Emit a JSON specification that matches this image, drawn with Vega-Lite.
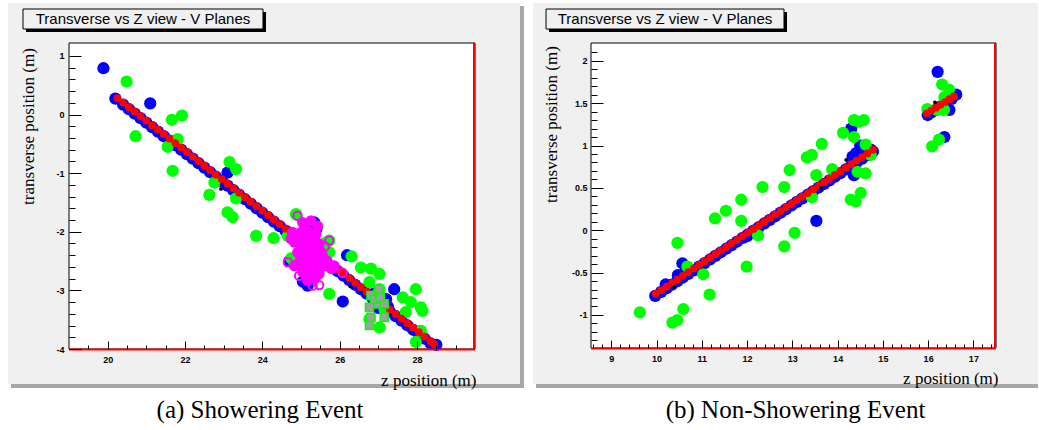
{
  "$schema": "https://vega.github.io/schema/vega-lite/v6.json",
  "padding": {"left": 7, "top": 3, "right": 0, "bottom": 6},
  "background": "white",
  "bounds": "flush",
  "spacing": 116,
  "config": {"view": {"stroke": null}},
  "datasets": {
    "p1": [
      {"s":"hit","z":20.2,"t":0.27},{"s":"hit","z":20.4,"t":0.168},{"s":"hit","z":20.55,"t":0.091},{"s":"hit","z":20.7,"t":0.015},{"s":"hit","z":20.85,"t":-0.062},{"s":"hit","z":21.0,"t":-0.139},{"s":"hit","z":21.15,"t":-0.216},{"s":"hit","z":21.3,"t":-0.293},{"s":"hit","z":21.45,"t":-0.369},{"s":"hit","z":21.6,"t":-0.446},{"s":"hit","z":21.75,"t":-0.523},{"s":"hit","z":21.9,"t":-0.6},{"s":"hit","z":22.05,"t":-0.677},{"s":"hit","z":22.2,"t":-0.753},{"s":"hit","z":22.35,"t":-0.83},{"s":"hit","z":22.5,"t":-0.907},{"s":"hit","z":22.65,"t":-0.984},{"s":"hit","z":22.8,"t":-1.061},{"s":"hit","z":22.95,"t":-1.137},{"s":"hit","z":23.1,"t":-1.214},{"s":"hit","z":23.25,"t":-1.291},{"s":"hit","z":23.4,"t":-1.368},{"s":"hit","z":23.55,"t":-1.445},{"s":"hit","z":23.7,"t":-1.521},{"s":"hit","z":23.85,"t":-1.598},{"s":"hit","z":24.0,"t":-1.675},{"s":"hit","z":24.15,"t":-1.752},{"s":"hit","z":24.3,"t":-1.829},{"s":"hit","z":24.45,"t":-1.905},{"s":"hit","z":24.6,"t":-1.982},{"s":"hit","z":24.75,"t":-2.059},{"s":"hit","z":24.9,"t":-2.136},{"s":"hit","z":25.05,"t":-2.213},{"s":"hit","z":25.2,"t":-2.289},{"s":"hit","z":25.35,"t":-2.366},{"s":"hit","z":25.5,"t":-2.443},{"s":"hit","z":25.65,"t":-2.52},{"s":"hit","z":25.8,"t":-2.597},{"s":"hit","z":25.95,"t":-2.673},{"s":"hit","z":26.1,"t":-2.75},{"s":"hit","z":26.25,"t":-2.827},{"s":"hit","z":26.4,"t":-2.904},{"s":"hit","z":26.55,"t":-2.981},{"s":"hit","z":26.7,"t":-3.057},{"s":"hit","z":26.85,"t":-3.134},{"s":"hit","z":27.0,"t":-3.211},{"s":"hit","z":27.15,"t":-3.288},{"s":"hit","z":27.3,"t":-3.365},{"s":"hit","z":27.45,"t":-3.441},{"s":"hit","z":27.6,"t":-3.518},{"s":"hit","z":27.75,"t":-3.595},{"s":"hit","z":27.9,"t":-3.672},{"s":"hit","z":28.05,"t":-3.749},{"s":"hit","z":28.2,"t":-3.825},{"s":"hit","z":28.35,"t":-3.902},{"s":"hit","z":28.5,"t":-3.93},
      {"s":"hit","z":19.89,"t":0.79},{"s":"hit","z":21.1,"t":0.19},{"s":"hit","z":23.1,"t":-0.99},{"s":"hit","z":26.19,"t":-2.4},{"s":"hit","z":26.08,"t":-3.19},{"s":"hit","z":27.41,"t":-2.98},{"s":"hit","z":25.34,"t":-1.84},{"s":"hit","z":25.4,"t":-1.95},{"s":"hit","z":25.17,"t":-2.92},{"s":"hit","z":25.05,"t":-2.85},{"s":"hit","z":27.2,"t":-3.15},{"s":"hit","z":27.25,"t":-3.28},{"s":"hit","z":26.9,"t":-3.05},{"s":"hit","z":24.7,"t":-2.5},{"s":"hit","z":27.0,"t":-3.3},
      {"s":"other","z":20.49,"t":0.56},{"s":"other","z":21.66,"t":-0.09},{"s":"other","z":21.92,"t":-0.02},{"s":"other","z":20.72,"t":-0.37},{"s":"other","z":21.55,"t":-0.55},{"s":"other","z":21.81,"t":-0.42},{"s":"other","z":21.68,"t":-0.96},{"s":"other","z":23.15,"t":-0.81},{"s":"other","z":23.32,"t":-0.93},{"s":"other","z":22.76,"t":-1.16},{"s":"other","z":22.63,"t":-1.37},{"s":"other","z":23.32,"t":-1.43},{"s":"other","z":23.1,"t":-1.67},{"s":"other","z":23.23,"t":-1.75},{"s":"other","z":23.84,"t":-2.07},{"s":"other","z":24.29,"t":-2.11},{"s":"other","z":24.87,"t":-1.7},{"s":"other","z":24.66,"t":-2.07},{"s":"other","z":25.73,"t":-2.15},{"s":"other","z":25.73,"t":-2.35},{"s":"other","z":26.31,"t":-2.42},{"s":"other","z":26.55,"t":-2.61},{"s":"other","z":26.81,"t":-2.63},{"s":"other","z":27.03,"t":-2.72},{"s":"other","z":26.77,"t":-2.86},{"s":"other","z":25.73,"t":-3.06},{"s":"other","z":27.97,"t":-2.98},{"s":"other","z":27.63,"t":-3.12},{"s":"other","z":27.84,"t":-3.2},{"s":"other","z":28.1,"t":-3.29},{"s":"other","z":27.71,"t":-3.37},{"s":"other","z":28.14,"t":-3.35},{"s":"other","z":27.03,"t":-2.98},{"s":"other","z":26.77,"t":-3.49},{"s":"other","z":27.03,"t":-3.63},{"s":"other","z":28.1,"t":-3.69},{"s":"other","z":27.97,"t":-3.88},{"s":"other","z":24.83,"t":-2.52},{"s":"other","z":25.52,"t":-2.52},{"s":"other","z":27.16,"t":-3.32},{"s":"other","z":26.9,"t":-3.1},{"s":"other","z":24.75,"t":-2.45},{"s":"other","z":25.6,"t":-2.2},
      {"s":"fit","z":20.25,"t":0.28},{"s":"fit","z":20.4,"t":0.203},{"s":"fit","z":20.55,"t":0.126},{"s":"fit","z":20.7,"t":0.05},{"s":"fit","z":20.85,"t":-0.027},{"s":"fit","z":21.0,"t":-0.104},{"s":"fit","z":21.15,"t":-0.181},{"s":"fit","z":21.3,"t":-0.258},{"s":"fit","z":21.45,"t":-0.334},{"s":"fit","z":21.6,"t":-0.411},{"s":"fit","z":21.75,"t":-0.488},{"s":"fit","z":21.9,"t":-0.565},{"s":"fit","z":22.05,"t":-0.642},{"s":"fit","z":22.2,"t":-0.718},{"s":"fit","z":22.35,"t":-0.795},{"s":"fit","z":22.5,"t":-0.872},{"s":"fit","z":22.65,"t":-0.949},{"s":"fit","z":22.8,"t":-1.026},{"s":"fit","z":22.95,"t":-1.102},{"s":"fit","z":23.1,"t":-1.179},{"s":"fit","z":23.25,"t":-1.256},{"s":"fit","z":23.4,"t":-1.333},{"s":"fit","z":23.55,"t":-1.41},{"s":"fit","z":23.7,"t":-1.486},{"s":"fit","z":23.85,"t":-1.563},{"s":"fit","z":24.0,"t":-1.64},{"s":"fit","z":24.15,"t":-1.717},{"s":"fit","z":24.3,"t":-1.794},{"s":"fit","z":24.45,"t":-1.87},{"s":"fit","z":24.6,"t":-1.947},{"s":"fit","z":24.75,"t":-2.024},{"s":"fit","z":24.9,"t":-2.101},{"s":"fit","z":25.05,"t":-2.178},{"s":"fit","z":25.2,"t":-2.254},{"s":"fit","z":25.35,"t":-2.331},{"s":"fit","z":25.5,"t":-2.408},{"s":"fit","z":25.65,"t":-2.485},{"s":"fit","z":25.8,"t":-2.562},{"s":"fit","z":25.95,"t":-2.638},{"s":"fit","z":26.1,"t":-2.715},{"s":"fit","z":26.25,"t":-2.792},{"s":"fit","z":26.4,"t":-2.869},{"s":"fit","z":26.55,"t":-2.946},{"s":"fit","z":26.7,"t":-3.022},{"s":"fit","z":26.85,"t":-3.099},{"s":"fit","z":27.0,"t":-3.176},{"s":"fit","z":27.15,"t":-3.253},{"s":"fit","z":27.3,"t":-3.33},{"s":"fit","z":27.45,"t":-3.406},{"s":"fit","z":27.6,"t":-3.483},{"s":"fit","z":27.75,"t":-3.56},{"s":"fit","z":27.9,"t":-3.637},{"s":"fit","z":28.05,"t":-3.714},{"s":"fit","z":28.2,"t":-3.79},{"s":"fit","z":28.35,"t":-3.867},{"s":"fit","z":28.45,"t":-3.918},
      {"s":"shower","z":25.04,"t":-1.84},{"s":"shower","z":25.26,"t":-1.81},{"s":"shower","z":25.43,"t":-1.9},{"s":"shower","z":24.78,"t":-2.01},{"s":"shower","z":25.0,"t":-2.01},{"s":"shower","z":25.22,"t":-2.01},{"s":"shower","z":25.39,"t":-2.04},{"s":"shower","z":24.83,"t":-2.18},{"s":"shower","z":25.04,"t":-2.18},{"s":"shower","z":25.26,"t":-2.21},{"s":"shower","z":25.47,"t":-2.21},{"s":"shower","z":24.91,"t":-2.35},{"s":"shower","z":25.13,"t":-2.35},{"s":"shower","z":25.34,"t":-2.38},{"s":"shower","z":25.56,"t":-2.41},{"s":"shower","z":24.96,"t":-2.52},{"s":"shower","z":25.17,"t":-2.52},{"s":"shower","z":25.39,"t":-2.55},{"s":"shower","z":25.6,"t":-2.58},{"s":"shower","z":24.83,"t":-2.58},{"s":"shower","z":25.04,"t":-2.69},{"s":"shower","z":25.26,"t":-2.72},{"s":"shower","z":25.47,"t":-2.72},{"s":"shower","z":25.78,"t":-2.63},{"s":"shower","z":25.17,"t":-2.83},{"s":"shower","z":25.52,"t":-2.35},{"s":"shower","z":24.74,"t":-2.12},{"s":"shower","z":25.86,"t":-2.58},{"s":"shower","z":25.12,"t":-1.95},{"s":"shower","z":24.93,"t":-2.1},{"s":"shower","z":25.15,"t":-2.12},{"s":"shower","z":25.36,"t":-2.14},{"s":"shower","z":25.02,"t":-2.28},{"s":"shower","z":25.24,"t":-2.3},{"s":"shower","z":25.45,"t":-2.32},{"s":"shower","z":25.06,"t":-2.45},{"s":"shower","z":25.28,"t":-2.46},{"s":"shower","z":25.48,"t":-2.48},{"s":"shower","z":25.1,"t":-2.6},{"s":"shower","z":25.33,"t":-2.63},{"s":"shower","z":25.68,"t":-2.5},{"s":"shower","z":25.36,"t":-2.8},
      {"s":"open","z":24.91,"t":-1.73},{"s":"open","z":25.73,"t":-2.15},{"s":"open","z":24.66,"t":-2.52},{"s":"open","z":26.08,"t":-2.7},{"s":"open","z":25.3,"t":-2.92},{"s":"open","z":25.47,"t":-2.91},{"s":"open","z":25.62,"t":-2.25},{"s":"open","z":24.95,"t":-2.75},
      {"s":"square","z":26.81,"t":-3.09},{"s":"square","z":27.02,"t":-2.98},{"s":"square","z":26.98,"t":-3.23},{"s":"square","z":27.15,"t":-3.23},{"s":"square","z":26.77,"t":-3.29},{"s":"square","z":26.81,"t":-3.46},{"s":"square","z":26.77,"t":-3.6},{"s":"square","z":27.15,"t":-3.46},{"s":"square","z":26.9,"t":-3.15},{"s":"square","z":27.05,"t":-3.12},
      {"s":"dot","z":22.93,"t":-1.27},{"s":"dot","z":26.27,"t":-2.93}
    ],
    "p2": [
      {"s":"hit","z":9.97,"t":-0.775},{"s":"hit","z":10.1,"t":-0.728},{"s":"hit","z":10.22,"t":-0.685},{"s":"hit","z":10.34,"t":-0.643},{"s":"hit","z":10.46,"t":-0.6},{"s":"hit","z":10.58,"t":-0.558},{"s":"hit","z":10.7,"t":-0.515},{"s":"hit","z":10.82,"t":-0.473},{"s":"hit","z":10.94,"t":-0.43},{"s":"hit","z":11.06,"t":-0.388},{"s":"hit","z":11.18,"t":-0.345},{"s":"hit","z":11.3,"t":-0.303},{"s":"hit","z":11.42,"t":-0.26},{"s":"hit","z":11.54,"t":-0.218},{"s":"hit","z":11.66,"t":-0.175},{"s":"hit","z":11.78,"t":-0.133},{"s":"hit","z":11.9,"t":-0.09},{"s":"hit","z":12.02,"t":-0.048},{"s":"hit","z":12.14,"t":-0.005},{"s":"hit","z":12.26,"t":0.037},{"s":"hit","z":12.38,"t":0.08},{"s":"hit","z":12.5,"t":0.122},{"s":"hit","z":12.62,"t":0.165},{"s":"hit","z":12.74,"t":0.207},{"s":"hit","z":12.86,"t":0.25},{"s":"hit","z":12.98,"t":0.292},{"s":"hit","z":13.1,"t":0.334},{"s":"hit","z":13.22,"t":0.377},{"s":"hit","z":13.34,"t":0.419},{"s":"hit","z":13.46,"t":0.462},{"s":"hit","z":13.58,"t":0.504},{"s":"hit","z":13.7,"t":0.547},{"s":"hit","z":13.82,"t":0.589},{"s":"hit","z":13.94,"t":0.632},{"s":"hit","z":14.06,"t":0.674},{"s":"hit","z":14.18,"t":0.717},{"s":"hit","z":14.3,"t":0.759},{"s":"hit","z":14.42,"t":0.802},{"s":"hit","z":14.54,"t":0.844},{"s":"hit","z":14.66,"t":0.887},{"s":"hit","z":14.78,"t":0.929},
      {"s":"hit","z":10.57,"t":-0.39},{"s":"hit","z":10.47,"t":-0.53},{"s":"hit","z":10.62,"t":-0.5},{"s":"hit","z":10.2,"t":-0.64},{"s":"hit","z":12.0,"t":-0.07},{"s":"hit","z":13.53,"t":0.11},{"s":"hit","z":14.3,"t":1.2},{"s":"hit","z":14.33,"t":0.87},{"s":"hit","z":14.36,"t":0.65},{"s":"hit","z":14.41,"t":0.91},{"s":"hit","z":14.74,"t":0.95},{"s":"hit","z":14.5,"t":1.0},{"s":"hit","z":14.3,"t":0.72},{"s":"hit","z":14.6,"t":0.9},
      {"s":"hit","z":15.99,"t":1.36},{"s":"hit","z":16.07,"t":1.39},{"s":"hit","z":16.17,"t":1.42},{"s":"hit","z":16.27,"t":1.46},{"s":"hit","z":16.37,"t":1.49},{"s":"hit","z":16.47,"t":1.42},{"s":"hit","z":16.62,"t":1.6},{"s":"hit","z":16.52,"t":1.55},{"s":"hit","z":16.21,"t":1.87},{"s":"hit","z":16.36,"t":1.1},
      {"s":"other","z":9.63,"t":-0.97},{"s":"other","z":10.35,"t":-1.09},{"s":"other","z":10.46,"t":-1.06},{"s":"other","z":10.59,"t":-0.93},{"s":"other","z":10.46,"t":-0.15},{"s":"other","z":10.68,"t":-0.43},{"s":"other","z":11.03,"t":-0.52},{"s":"other","z":11.17,"t":-0.76},{"s":"other","z":11.29,"t":0.14},{"s":"other","z":11.53,"t":0.23},{"s":"other","z":11.87,"t":0.36},{"s":"other","z":11.87,"t":0.11},{"s":"other","z":11.99,"t":-0.43},{"s":"other","z":12.34,"t":0.51},{"s":"other","z":12.24,"t":-0.06},{"s":"other","z":12.82,"t":0.51},{"s":"other","z":12.94,"t":0.71},{"s":"other","z":12.82,"t":-0.19},{"s":"other","z":13.05,"t":-0.03},{"s":"other","z":13.32,"t":0.86},{"s":"other","z":13.43,"t":0.89},{"s":"other","z":13.65,"t":1.02},{"s":"other","z":13.53,"t":0.65},{"s":"other","z":13.43,"t":0.39},{"s":"other","z":13.88,"t":0.72},{"s":"other","z":14.12,"t":1.15},{"s":"other","z":14.36,"t":1.1},{"s":"other","z":14.36,"t":1.3},{"s":"other","z":14.58,"t":1.3},{"s":"other","z":14.47,"t":1.28},{"s":"other","z":14.62,"t":1.01},{"s":"other","z":14.73,"t":0.89},{"s":"other","z":14.44,"t":0.69},{"s":"other","z":14.62,"t":0.67},{"s":"other","z":14.29,"t":0.36},{"s":"other","z":14.51,"t":0.44},{"s":"other","z":14.4,"t":0.34},{"s":"other","z":15.98,"t":1.43},{"s":"other","z":16.31,"t":1.72},{"s":"other","z":16.46,"t":1.66},{"s":"other","z":16.36,"t":1.57},{"s":"other","z":16.35,"t":1.42},{"s":"other","z":16.09,"t":0.99},{"s":"other","z":16.24,"t":1.07},{"s":"other","z":16.2,"t":1.42},
      {"s":"fit","z":9.98,"t":-0.75},{"s":"fit","z":10.1,"t":-0.708},{"s":"fit","z":10.22,"t":-0.665},{"s":"fit","z":10.34,"t":-0.623},{"s":"fit","z":10.46,"t":-0.58},{"s":"fit","z":10.58,"t":-0.538},{"s":"fit","z":10.7,"t":-0.495},{"s":"fit","z":10.82,"t":-0.453},{"s":"fit","z":10.94,"t":-0.41},{"s":"fit","z":11.06,"t":-0.368},{"s":"fit","z":11.18,"t":-0.325},{"s":"fit","z":11.3,"t":-0.283},{"s":"fit","z":11.42,"t":-0.24},{"s":"fit","z":11.54,"t":-0.198},{"s":"fit","z":11.66,"t":-0.155},{"s":"fit","z":11.78,"t":-0.113},{"s":"fit","z":11.9,"t":-0.07},{"s":"fit","z":12.02,"t":-0.028},{"s":"fit","z":12.14,"t":0.015},{"s":"fit","z":12.26,"t":0.057},{"s":"fit","z":12.38,"t":0.1},{"s":"fit","z":12.5,"t":0.142},{"s":"fit","z":12.62,"t":0.185},{"s":"fit","z":12.74,"t":0.227},{"s":"fit","z":12.86,"t":0.27},{"s":"fit","z":12.98,"t":0.312},{"s":"fit","z":13.1,"t":0.354},{"s":"fit","z":13.22,"t":0.397},{"s":"fit","z":13.34,"t":0.439},{"s":"fit","z":13.46,"t":0.482},{"s":"fit","z":13.58,"t":0.524},{"s":"fit","z":13.7,"t":0.567},{"s":"fit","z":13.82,"t":0.609},{"s":"fit","z":13.94,"t":0.652},{"s":"fit","z":14.06,"t":0.694},{"s":"fit","z":14.18,"t":0.737},{"s":"fit","z":14.3,"t":0.779},{"s":"fit","z":14.42,"t":0.822},{"s":"fit","z":14.54,"t":0.864},{"s":"fit","z":14.66,"t":0.907},{"s":"fit","z":14.78,"t":0.949},
      {"s":"fit","z":15.97,"t":1.38},{"s":"fit","z":16.07,"t":1.413},{"s":"fit","z":16.17,"t":1.447},{"s":"fit","z":16.27,"t":1.48},{"s":"fit","z":16.37,"t":1.513},{"s":"fit","z":16.47,"t":1.547},{"s":"fit","z":16.57,"t":1.58},
      {"s":"dot","z":13.63,"t":0.5},{"s":"dot","z":10.38,"t":-0.67},{"s":"dot","z":14.19,"t":0.83},{"s":"dot","z":16.15,"t":1.51}
    ]
  },
  "hconcat": [
    {
      "width": 406,
      "height": 306,
      "data": {"name": "p1"},
      "title": {"text": "(a) Showering Event", "orient": "bottom", "anchor": "middle", "frame": "group", "offset": 10, "dx": -12, "font": "Liberation Serif", "fontSize": 25, "fontWeight": "normal", "color": "black"},
      "resolve": {"axis": {"x": "independent", "y": "independent"}},
      "layer": [
        {"data": {"values": [{}]}, "mark": {"type": "rect", "fill": "#a8a8a8"},
         "encoding": {"x": {"datum": 17.5, "type": "quantitative", "scale": {"domain": [19, 29.5], "nice": false, "zero": false}, "axis": null}, "x2": {"datum": 30.767},
                      "y": {"datum": 1.851, "type": "quantitative", "scale": {"domain": [-4, 1.22], "nice": false, "zero": false}, "axis": null}, "y2": {"datum": -4.665}}},
        {"data": {"values": [{}]}, "mark": {"type": "rect", "fill": "#f0f0f0"},
         "encoding": {"x": {"datum": 17.422, "type": "quantitative", "scale": {"domain": [19, 29.5], "nice": false, "zero": false}, "axis": null}, "x2": {"datum": 30.664},
                      "y": {"datum": 1.902, "type": "quantitative", "scale": {"domain": [-4, 1.22], "nice": false, "zero": false}, "axis": null}, "y2": {"datum": -4.597}}},
        {"data": {"values": [{}]}, "mark": {"type": "rect", "fill": "#000000"},
         "encoding": {"x": {"datum": 17.888, "type": "quantitative", "scale": {"domain": [19, 29.5], "nice": false, "zero": false}, "axis": null}, "x2": {"datum": 24.095},
                      "y": {"datum": 1.749, "type": "quantitative", "scale": {"domain": [-4, 1.22], "nice": false, "zero": false}, "axis": null}, "y2": {"datum": 1.408}}},
        {"data": {"values": [{}]}, "mark": {"type": "rect", "fill": "#f0f0f0", "stroke": "#000000", "strokeWidth": 1},
         "encoding": {"x": {"datum": 17.81, "type": "quantitative", "scale": {"domain": [19, 29.5], "nice": false, "zero": false}, "axis": null}, "x2": {"datum": 24.017},
                      "y": {"datum": 1.8, "type": "quantitative", "scale": {"domain": [-4, 1.22], "nice": false, "zero": false}, "axis": null}, "y2": {"datum": 1.459}}},
        {"data": {"values": [{}]}, "mark": {"type": "text", "font": "Liberation Sans", "fontSize": 15, "color": "#000000", "align": "center", "baseline": "middle"},
         "encoding": {"x": {"datum": 20.914, "type": "quantitative", "scale": {"domain": [19, 29.5], "nice": false, "zero": false}, "axis": null},
                      "y": {"datum": 1.629, "type": "quantitative", "scale": {"domain": [-4, 1.22], "nice": false, "zero": false}, "axis": null},
                      "text": {"value": "Transverse vs Z view - V Planes"}}},
        {"data": {"values": [{}]}, "mark": {"type": "rect", "fill": "#ffffff", "stroke": "#000000", "strokeWidth": 1},
         "encoding": {"x": {"datum": 19, "type": "quantitative", "scale": {"domain": [19, 29.5], "nice": false, "zero": false}, "axis": null}, "x2": {"datum": 29.5},
                      "y": {"datum": 1.22, "type": "quantitative", "scale": {"domain": [-4, 1.22], "nice": false, "zero": false}, "axis": null}, "y2": {"datum": -4}}},
        {"transform": [{"filter": "datum.s == 'hit'"}],
         "mark": {"type": "circle", "color": "#0000ff", "size": 150, "opacity": 1},
         "encoding": {"x": {"field": "z", "type": "quantitative", "scale": {"domain": [19, 29.5], "nice": false, "zero": false},
                            "axis": {"orient": "bottom", "values": [19.5, 20.5, 21, 21.5, 22.5, 23, 23.5, 24.5, 25, 25.5, 26.5, 27, 27.5, 28.5, 29], "labels": false, "domain": false, "grid": false, "tickSize": -4, "tickColor": "#000000", "tickWidth": 1, "title": null, "zindex": 1}},
                      "y": {"field": "t", "type": "quantitative", "scale": {"domain": [-4, 1.22], "nice": false, "zero": false},
                            "axis": {"orient": "left", "values": [-3.8, -3.6, -3.4, -3.2, -2.8, -2.6, -2.4, -2.2, -1.8, -1.6, -1.4, -1.2, -0.8, -0.6, -0.4, -0.2, 0.2, 0.4, 0.6, 0.8], "labels": false, "domain": false, "grid": false, "tickSize": -6, "tickColor": "#000000", "tickWidth": 1, "title": null, "zindex": 1}}}},
        {"transform": [{"filter": "datum.s == 'other'"}],
         "mark": {"type": "circle", "color": "#00ff00", "size": 150, "opacity": 1},
         "encoding": {"x": {"field": "z", "type": "quantitative", "scale": {"domain": [19, 29.5], "nice": false, "zero": false}, "axis": null},
                      "y": {"field": "t", "type": "quantitative", "scale": {"domain": [-4, 1.22], "nice": false, "zero": false}, "axis": null}}},
        {"transform": [{"filter": "datum.s == 'fit'"}],
         "mark": {"type": "circle", "color": "#ff0000", "size": 60, "opacity": 1},
         "encoding": {"x": {"field": "z", "type": "quantitative", "scale": {"domain": [19, 29.5], "nice": false, "zero": false},
                            "axis": {"orient": "bottom", "values": [20, 22, 24, 26, 28], "domain": false, "grid": false, "tickSize": -8, "tickColor": "#000000", "tickWidth": 1, "labelFont": "Liberation Sans", "labelFontSize": 9, "labelFontWeight": "bold", "labelColor": "#000000", "labelPadding": 14, "labelOverlap": false, "labelFlush": false,
                                     "title": "z position (m)", "titleFont": "Liberation Serif", "titleFontSize": 17, "titleFontWeight": "normal", "titleColor": "#000000", "titleX": 407, "titleY": 31, "titleAlign": "right", "titleBaseline": "middle", "zindex": 1}},
                      "y": {"field": "t", "type": "quantitative", "scale": {"domain": [-4, 1.22], "nice": false, "zero": false},
                            "axis": {"orient": "left", "values": [-4, -3, -2, -1, 0, 1], "format": "~g", "domain": false, "grid": false, "tickSize": -12, "tickColor": "#000000", "tickWidth": 1, "labelFont": "Liberation Sans", "labelFontSize": 9, "labelFontWeight": "bold", "labelColor": "#000000", "labelPadding": 17, "labelOverlap": false, "labelFlush": false, "labelExpr": "replace(datum.label, '−', '-')",
                                     "title": "transverse position (m)", "titleFont": "Liberation Serif", "titleFontSize": 17, "titleFontWeight": "normal", "titleColor": "#000000", "titleX": -41, "titleY": 83, "titleAngle": -90, "titleAlign": "center", "titleBaseline": "middle", "zindex": 1}}}},
        {"transform": [{"filter": "datum.s == 'shower'"}],
         "mark": {"type": "circle", "color": "#ff00ff", "size": 120, "opacity": 1},
         "encoding": {"x": {"field": "z", "type": "quantitative", "scale": {"domain": [19, 29.5], "nice": false, "zero": false}, "axis": null},
                      "y": {"field": "t", "type": "quantitative", "scale": {"domain": [-4, 1.22], "nice": false, "zero": false}, "axis": null}}},
        {"transform": [{"filter": "datum.s == 'open'"}],
         "mark": {"type": "point", "shape": "circle", "filled": false, "stroke": "#ff00ff", "strokeWidth": 2, "size": 70, "opacity": 1},
         "encoding": {"x": {"field": "z", "type": "quantitative", "scale": {"domain": [19, 29.5], "nice": false, "zero": false}, "axis": null},
                      "y": {"field": "t", "type": "quantitative", "scale": {"domain": [-4, 1.22], "nice": false, "zero": false}, "axis": null}}},
        {"transform": [{"filter": "datum.s == 'square'"}],
         "mark": {"type": "point", "shape": "square", "filled": true, "fill": "#a0a0a0", "stroke": "#00ff00", "strokeWidth": 1.5, "size": 65, "opacity": 1},
         "encoding": {"x": {"field": "z", "type": "quantitative", "scale": {"domain": [19, 29.5], "nice": false, "zero": false}, "axis": null},
                      "y": {"field": "t", "type": "quantitative", "scale": {"domain": [-4, 1.22], "nice": false, "zero": false}, "axis": null}}},
        {"transform": [{"filter": "datum.s == 'dot'"}],
         "mark": {"type": "circle", "color": "#000000", "size": 14, "opacity": 1},
         "encoding": {"x": {"field": "z", "type": "quantitative", "scale": {"domain": [19, 29.5], "nice": false, "zero": false}, "axis": null},
                      "y": {"field": "t", "type": "quantitative", "scale": {"domain": [-4, 1.22], "nice": false, "zero": false}, "axis": null}}},
        {"data": {"values": [{}]}, "mark": {"type": "rule", "color": "#ff0000", "strokeWidth": 2, "yOffset": 0.5},
         "encoding": {"x": {"datum": 19, "type": "quantitative", "scale": {"domain": [19, 29.5], "nice": false, "zero": false}, "axis": null}, "x2": {"datum": 29.5},
                      "y": {"datum": -4, "type": "quantitative", "scale": {"domain": [-4, 1.22], "nice": false, "zero": false}, "axis": null}}},
        {"data": {"values": [{}]}, "mark": {"type": "rule", "color": "#ff0000", "strokeWidth": 2, "xOffset": -1},
         "encoding": {"x": {"datum": 29.5, "type": "quantitative", "scale": {"domain": [19, 29.5], "nice": false, "zero": false}, "axis": null},
                      "y": {"datum": 1.22, "type": "quantitative", "scale": {"domain": [-4, 1.22], "nice": false, "zero": false}, "axis": null}, "y2": {"datum": -4}}}
      ]
    },
    {
      "width": 405,
      "height": 305,
      "data": {"name": "p2"},
      "title": {"text": "(b) Non-Showering Event", "orient": "bottom", "anchor": "middle", "frame": "group", "offset": 10, "dx": 2, "font": "Liberation Serif", "fontSize": 25, "fontWeight": "normal", "color": "black"},
      "resolve": {"axis": {"x": "independent", "y": "independent"}},
      "layer": [
        {"data": {"values": [{}]}, "mark": {"type": "rect", "fill": "#a8a8a8"},
         "encoding": {"x": {"datum": 7.335, "type": "quantitative", "scale": {"domain": [8.55, 17.5], "nice": false, "zero": false}, "axis": null}, "x2": {"datum": 18.428},
                      "y": {"datum": 2.647, "type": "quantitative", "scale": {"domain": [-1.39, 2.21], "nice": false, "zero": false}, "axis": null}, "y2": {"datum": -1.862}}},
        {"data": {"values": [{}]}, "mark": {"type": "rect", "fill": "#f0f0f0"},
         "encoding": {"x": {"datum": 7.268, "type": "quantitative", "scale": {"domain": [8.55, 17.5], "nice": false, "zero": false}, "axis": null}, "x2": {"datum": 18.428},
                      "y": {"datum": 2.682, "type": "quantitative", "scale": {"domain": [-1.39, 2.21], "nice": false, "zero": false}, "axis": null}, "y2": {"datum": -1.815}}},
        {"data": {"values": [{}]}, "mark": {"type": "rect", "fill": "#000000"},
         "encoding": {"x": {"datum": 7.622, "type": "quantitative", "scale": {"domain": [8.55, 17.5], "nice": false, "zero": false}, "axis": null}, "x2": {"datum": 12.882},
                      "y": {"datum": 2.576, "type": "quantitative", "scale": {"domain": [-1.39, 2.21], "nice": false, "zero": false}, "axis": null}, "y2": {"datum": 2.34}}},
        {"data": {"values": [{}]}, "mark": {"type": "rect", "fill": "#f0f0f0", "stroke": "#000000", "strokeWidth": 1},
         "encoding": {"x": {"datum": 7.556, "type": "quantitative", "scale": {"domain": [8.55, 17.5], "nice": false, "zero": false}, "axis": null}, "x2": {"datum": 12.815},
                      "y": {"datum": 2.611, "type": "quantitative", "scale": {"domain": [-1.39, 2.21], "nice": false, "zero": false}, "axis": null}, "y2": {"datum": 2.375}}},
        {"data": {"values": [{}]}, "mark": {"type": "text", "font": "Liberation Sans", "fontSize": 15, "color": "#000000", "align": "center", "baseline": "middle"},
         "encoding": {"x": {"datum": 10.185, "type": "quantitative", "scale": {"domain": [8.55, 17.5], "nice": false, "zero": false}, "axis": null},
                      "y": {"datum": 2.493, "type": "quantitative", "scale": {"domain": [-1.39, 2.21], "nice": false, "zero": false}, "axis": null},
                      "text": {"value": "Transverse vs Z view - V Planes"}}},
        {"data": {"values": [{}]}, "mark": {"type": "rect", "fill": "#ffffff", "stroke": "#000000", "strokeWidth": 1},
         "encoding": {"x": {"datum": 8.55, "type": "quantitative", "scale": {"domain": [8.55, 17.5], "nice": false, "zero": false}, "axis": null}, "x2": {"datum": 17.5},
                      "y": {"datum": 2.21, "type": "quantitative", "scale": {"domain": [-1.39, 2.21], "nice": false, "zero": false}, "axis": null}, "y2": {"datum": -1.39}}},
        {"transform": [{"filter": "datum.s == 'hit'"}],
         "mark": {"type": "circle", "color": "#0000ff", "size": 150, "opacity": 1},
         "encoding": {"x": {"field": "z", "type": "quantitative", "scale": {"domain": [8.55, 17.5], "nice": false, "zero": false},
                            "axis": {"orient": "bottom", "values": [8.6, 8.8, 9.2, 9.4, 9.6, 9.8, 10.2, 10.4, 10.6, 10.8, 11.2, 11.4, 11.6, 11.8, 12.2, 12.4, 12.6, 12.8, 13.2, 13.4, 13.6, 13.8, 14.2, 14.4, 14.6, 14.8, 15.2, 15.4, 15.6, 15.8, 16.2, 16.4, 16.6, 16.8, 17.2, 17.4], "labels": false, "domain": false, "grid": false, "tickSize": -4, "tickColor": "#000000", "tickWidth": 1, "title": null, "zindex": 1}},
                      "y": {"field": "t", "type": "quantitative", "scale": {"domain": [-1.39, 2.21], "nice": false, "zero": false},
                            "axis": {"orient": "left", "values": [-1.3, -1.2, -1.1, -0.9, -0.8, -0.7, -0.6, -0.4, -0.3, -0.2, -0.1, 0.1, 0.2, 0.3, 0.4, 0.6, 0.7, 0.8, 0.9, 1.1, 1.2, 1.3, 1.4, 1.6, 1.7, 1.8, 1.9, 2.1], "labels": false, "domain": false, "grid": false, "tickSize": -6, "tickColor": "#000000", "tickWidth": 1, "title": null, "zindex": 1}}}},
        {"transform": [{"filter": "datum.s == 'other'"}],
         "mark": {"type": "circle", "color": "#00ff00", "size": 150, "opacity": 1},
         "encoding": {"x": {"field": "z", "type": "quantitative", "scale": {"domain": [8.55, 17.5], "nice": false, "zero": false}, "axis": null},
                      "y": {"field": "t", "type": "quantitative", "scale": {"domain": [-1.39, 2.21], "nice": false, "zero": false}, "axis": null}}},
        {"transform": [{"filter": "datum.s == 'fit'"}],
         "mark": {"type": "circle", "color": "#ff0000", "size": 60, "opacity": 1},
         "encoding": {"x": {"field": "z", "type": "quantitative", "scale": {"domain": [8.55, 17.5], "nice": false, "zero": false},
                            "axis": {"orient": "bottom", "values": [9, 10, 11, 12, 13, 14, 15, 16, 17], "domain": false, "grid": false, "tickSize": -8, "tickColor": "#000000", "tickWidth": 1, "labelFont": "Liberation Sans", "labelFontSize": 9, "labelFontWeight": "bold", "labelColor": "#000000", "labelPadding": 14, "labelOverlap": false, "labelFlush": false,
                                     "title": "z position (m)", "titleFont": "Liberation Serif", "titleFontSize": 17, "titleFontWeight": "normal", "titleColor": "#000000", "titleX": 407, "titleY": 30, "titleAlign": "right", "titleBaseline": "middle", "zindex": 1}},
                      "y": {"field": "t", "type": "quantitative", "scale": {"domain": [-1.39, 2.21], "nice": false, "zero": false},
                            "axis": {"orient": "left", "values": [-1, -0.5, 0, 0.5, 1, 1.5, 2], "format": "~g", "domain": false, "grid": false, "tickSize": -12, "tickColor": "#000000", "tickWidth": 1, "labelFont": "Liberation Sans", "labelFontSize": 9, "labelFontWeight": "bold", "labelColor": "#000000", "labelPadding": 16, "labelOverlap": false, "labelFlush": false, "labelExpr": "replace(datum.label, '−', '-')",
                                     "title": "transverse position (m)", "titleFont": "Liberation Serif", "titleFontSize": 17, "titleFontWeight": "normal", "titleColor": "#000000", "titleX": -40, "titleY": 81, "titleAngle": -90, "titleAlign": "center", "titleBaseline": "middle", "zindex": 1}}}},
        {"transform": [{"filter": "datum.s == 'dot'"}],
         "mark": {"type": "circle", "color": "#000000", "size": 14, "opacity": 1},
         "encoding": {"x": {"field": "z", "type": "quantitative", "scale": {"domain": [8.55, 17.5], "nice": false, "zero": false}, "axis": null},
                      "y": {"field": "t", "type": "quantitative", "scale": {"domain": [-1.39, 2.21], "nice": false, "zero": false}, "axis": null}}},
        {"data": {"values": [{}]}, "mark": {"type": "rule", "color": "#ff0000", "strokeWidth": 2, "yOffset": 0.5},
         "encoding": {"x": {"datum": 8.55, "type": "quantitative", "scale": {"domain": [8.55, 17.5], "nice": false, "zero": false}, "axis": null}, "x2": {"datum": 17.5},
                      "y": {"datum": -1.39, "type": "quantitative", "scale": {"domain": [-1.39, 2.21], "nice": false, "zero": false}, "axis": null}}},
        {"data": {"values": [{}]}, "mark": {"type": "rule", "color": "#ff0000", "strokeWidth": 2, "xOffset": -1},
         "encoding": {"x": {"datum": 17.5, "type": "quantitative", "scale": {"domain": [8.55, 17.5], "nice": false, "zero": false}, "axis": null},
                      "y": {"datum": 2.21, "type": "quantitative", "scale": {"domain": [-1.39, 2.21], "nice": false, "zero": false}, "axis": null}, "y2": {"datum": -1.39}}}
      ]
    }
  ]
}
